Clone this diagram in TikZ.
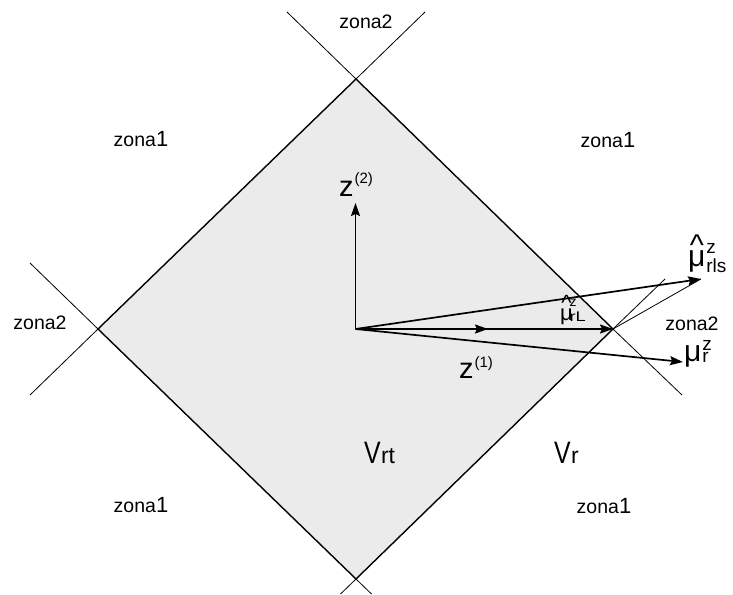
\documentclass[tikz,border=0pt]{standalone}
\usepackage{fontspec}
\setmainfont{Liberation Sans}
\usepackage{graphicx}
\usetikzlibrary{arrows.meta}
\definecolor{regfill}{RGB}{235,235,235}
\newcommand\fs[1]{\fontsize{#1}{#1}\selectfont}
\newcommand\hatmu[1]{\rlap{\kern0.06em\raisebox{#1}{\textasciicircum}}μ}
\tikzset{
  edge/.style={line width=1.4pt, line join=miter},
  ext/.style={line width=0.8pt},
  vec/.style={line width=1.7pt, -{Stealth[length=13pt,width=9pt,inset=2pt]}},
  lbl/.style={inner sep=0pt, outer sep=0pt, anchor=base west},
  zona/.style={inner sep=0pt, outer sep=0pt, anchor=base, font=\fs{19.5}},
}
\begin{document}
\begin{tikzpicture}[x=1pt,y=-1pt]
\useasboundingbox (0,0) rectangle (733,594);
% diamond vertices and origin
\coordinate (T) at (356,79);
\coordinate (L) at (98,329);
\coordinate (R) at (613,329);
\coordinate (B) at (356,579);
\coordinate (O) at (355.5,329);
% extension end points
\coordinate (TL) at (287,12);
\coordinate (TR) at (425,12);
\coordinate (LU) at (30,263);
\coordinate (LD) at (30,395);
\coordinate (RU) at (665,279);
\coordinate (RD) at (682,395);
\coordinate (BL) at (340.5,594);
\coordinate (BR) at (371.5,594);
% vector tips
\coordinate (Z1) at (488,329);
\coordinate (Z2) at (355.5,203);
\coordinate (MLS) at (701,279);
\coordinate (MR) at (683,362);

\fill[regfill] (T) -- (R) -- (B) -- (L) -- cycle;
\draw[edge] (T) -- (R) -- (B) -- (L) -- cycle;

\draw[ext] (T) -- (TL);
\draw[ext] (T) -- (TR);
\draw[ext] (L) -- (LU);
\draw[ext] (L) -- (LD);
\draw[ext] (R) -- (RU);
\draw[ext] (R) -- (RD);
\draw[ext] (B) -- (BL);
\draw[ext] (B) -- (BR);
\draw[ext] (R) -- (MLS);

\draw[vec] (O) -- (R);
\draw[vec] (O) -- (Z1);
\draw[vec] (O) -- (Z2);
\draw[vec] (O) -- (MLS);
\draw[vec] (O) -- (MR);

% zone labels
\node[zona] (za) at (366,29) {zona2};
\node[zona] (zb) at (40,329) {zona2};
\node[zona] (zc) at (692,330) {zona2};
\node[zona] (zd) at (141,146) {zona{\fs{22}1}};
\node[zona] (ze) at (608,147) {zona{\fs{22}1}};
\node[zona] (zf) at (141,512) {zona{\fs{22}1}};
\node[zona] (zg) at (604,513) {zona{\fs{22}1}};

% region labels
\node[lbl] (vrt) at (364,463) {{\fs{31}\scalebox{0.8}[1]{V}}\kern0.5pt{\fs{23}rt}};
\node[lbl] (vr) at (554,463) {{\fs{31}\scalebox{0.8}[1]{V}}\kern0.5pt{\fs{23}r}};

% axis labels
\node[lbl] (lz2) at (339,196) {{\fs{29}z}\kern1pt\raisebox{13pt}{\fs{15}(2)}};
\node[lbl] (lz1) at (459,378) {{\fs{29}z}\kern1pt\raisebox{11pt}{\fs{15}(1)}};

% vector labels
\node[lbl] (lmls) at (688,266) {{\fs{30}\hatmu{0.36em}}\kern1pt\rlap{\raisebox{13pt}{\fs{19}z}}\raisebox{-6pt}{\fs{19}rls}};
\node[lbl] (lmr) at (684,361) {{\fs{30}μ}\kern1pt\rlap{\raisebox{11pt}{\fs{19}z}}\raisebox{-1pt}{\fs{19}r}};
\node[lbl] (lml) at (560,320.5) {{\fs{22}\hatmu{0.47em}}\kern-3pt\rlap{\raisebox{14pt}{\fs{14}z}}\raisebox{-0.5pt}{\fs{14}\scalebox{1.3}[1]{rL}}};
\end{tikzpicture}
\end{document}
